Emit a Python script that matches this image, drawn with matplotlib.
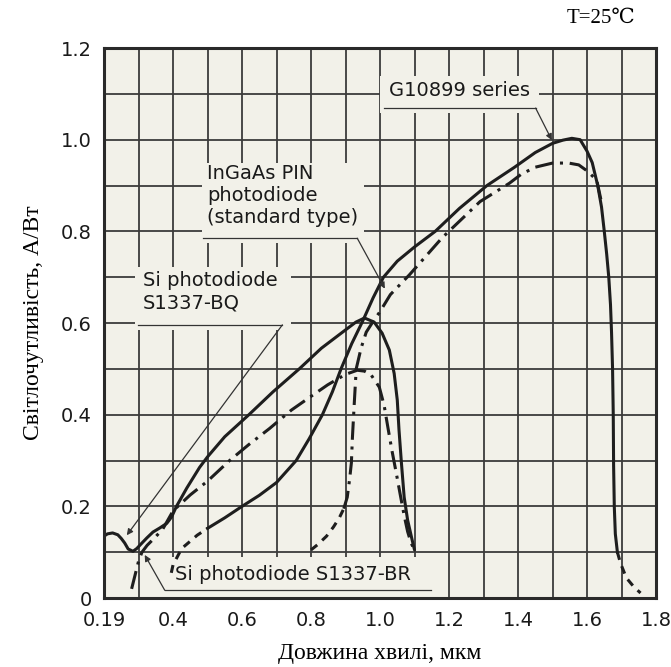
# Спектральна чутливість фотодіодів (Si / InGaAs)
import numpy as np
import matplotlib
matplotlib.use('Agg')
import matplotlib.pyplot as plt
from matplotlib.patches import Rectangle

plt.rcParams['font.family'] = ['DejaVu Sans']

# --- дані ---
# Si photodiode S1337-BQ (суцільна)
bq_x = [0.20, 0.21, 0.225, 0.24, 0.25, 0.26, 0.27, 0.284, 0.295, 0.305, 0.324, 0.342,
        0.362, 0.382, 0.396, 0.41, 0.44, 0.477, 0.50, 0.55, 0.62, 0.69, 0.766, 0.83,
        0.90, 0.93, 0.955, 0.983, 1.006, 1.027, 1.041, 1.05, 1.055, 1.062, 1.07, 1.08,
        1.093, 1.10]
bq_y = [0.135, 0.14, 0.142, 0.138, 0.13, 0.12, 0.107, 0.102, 0.108, 0.116, 0.131, 0.144,
        0.153, 0.163, 0.177, 0.20, 0.24, 0.285, 0.308, 0.352, 0.40, 0.45, 0.50, 0.545,
        0.585, 0.602, 0.611, 0.602, 0.578, 0.541, 0.49, 0.432, 0.367, 0.295, 0.22, 0.17,
        0.127, 0.105]

# Si photodiode S1337-BR (штрих-пунктир)
br_x = [0.28, 0.29, 0.30, 0.31, 0.325, 0.345, 0.37, 0.40, 0.45, 0.50, 0.564, 0.62, 0.68,
        0.743, 0.80, 0.848, 0.90, 0.934, 0.955, 0.974, 0.998, 1.012, 1.024, 1.035, 1.047,
        1.06, 1.07, 1.08, 1.09, 1.10]
br_y = [0.02, 0.05, 0.08, 0.10, 0.115, 0.13, 0.15, 0.19, 0.225, 0.255, 0.30, 0.335, 0.37,
        0.41, 0.44, 0.465, 0.488, 0.497, 0.495, 0.487, 0.46, 0.42, 0.367, 0.32, 0.273,
        0.22, 0.18, 0.145, 0.12, 0.105]

# G10899 series: пунктирний початок, суцільна частина, пунктирний хвіст
g_head_x = [0.395, 0.40, 0.425, 0.45, 0.47, 0.50]
g_head_y = [0.055, 0.072, 0.108, 0.124, 0.137, 0.152]
g_x = [0.50, 0.55, 0.60, 0.65, 0.70, 0.757, 0.795, 0.833, 0.862, 0.887, 0.918, 0.949,
       0.98, 1.01, 1.05, 1.10, 1.16, 1.23, 1.31, 1.39, 1.45, 1.50, 1.53, 1.556, 1.58,
       1.60, 1.615, 1.631, 1.642, 1.65, 1.657, 1.663, 1.668, 1.671, 1.674, 1.676, 1.677,
       1.679, 1.682, 1.688]
g_y = [0.152, 0.175, 0.20, 0.224, 0.252, 0.30, 0.348, 0.40, 0.45, 0.50, 0.555, 0.603,
       0.655, 0.70, 0.735, 0.766, 0.80, 0.85, 0.90, 0.94, 0.972, 0.992, 0.999, 1.003, 1.0,
       0.975, 0.95, 0.90, 0.853, 0.80, 0.75, 0.70, 0.64, 0.58, 0.50, 0.40, 0.29,
       0.20, 0.14, 0.10]
g_tail_x = [1.688, 1.697, 1.714, 1.735, 1.755]
g_tail_y = [0.10, 0.076, 0.044, 0.025, 0.011]

# InGaAs PIN photodiode (standard type)
in_head_x = [0.80, 0.82, 0.845, 0.865, 0.882, 0.895]
in_head_y = [0.105, 0.117, 0.135, 0.155, 0.175, 0.195]
in_x = [0.895, 0.905, 0.912, 0.917, 0.92, 0.925, 0.931, 0.945, 0.96, 0.977, 1.0, 1.03,
        1.085, 1.18, 1.29, 1.375, 1.41, 1.45, 1.50, 1.547, 1.576, 1.60, 1.628, 1.64]
in_y = [0.195, 0.22, 0.26, 0.295, 0.35, 0.42, 0.50, 0.545, 0.58, 0.60, 0.625, 0.662,
        0.705, 0.786, 0.865, 0.905, 0.925, 0.94, 0.949, 0.949, 0.945, 0.932, 0.912, 0.87]

xticks = [0.2, 0.4, 0.6, 0.8, 1.0, 1.2, 1.4, 1.6, 1.8]
xtick_labels = ['0.19', '0.4', '0.6', '0.8', '1.0', '1.2', '1.4', '1.6', '1.8']
yticks = [0, 0.2, 0.4, 0.6, 0.8, 1.0, 1.2]
ytick_labels = ['0', '0.2', '0.4', '0.6', '0.8', '1.0', '1.2']

bg = '#f2f1e9'
ink = '#1e1e1e'
lw = 2.2
dashdot = (0, (6, 2.2, 1, 2.2))
dashed = (0, (2.6, 2.2))

fig = plt.figure(figsize=(6.71, 6.67), dpi=100)
ax = fig.add_axes([0.155, 0.1034, 0.8227, 0.8246])
ax.set_facecolor(bg)
ax.set_axisbelow(True)

ax.plot(bq_x, bq_y, color=ink, lw=lw, zorder=3, solid_capstyle='round')
ax.plot(br_x, br_y, color=ink, lw=lw, ls=dashdot, zorder=3)
ax.plot(g_head_x, g_head_y, color=ink, lw=lw, ls=dashed, zorder=3)
ax.plot(g_x, g_y, color=ink, lw=lw, zorder=3)
ax.plot(g_tail_x, g_tail_y, color=ink, lw=lw, ls=dashed, zorder=3)
ax.plot(in_head_x, in_head_y, color=ink, lw=lw, ls=dashed, zorder=3)
ax.plot(in_x, in_y, color=ink, lw=lw, ls=dashdot, zorder=3)

ax.set_xlim(0.2, 1.8)
ax.set_ylim(0, 1.2)
ax.set_xticks(xticks)
ax.set_xticklabels(xtick_labels)
ax.set_xticks(np.arange(0.3, 1.8, 0.2), minor=True)
ax.set_yticks(yticks)
ax.set_yticklabels(ytick_labels)
ax.set_yticks(np.arange(0.1, 1.2, 0.2), minor=True)
ax.tick_params(which='both', length=0, labelsize=14, pad=9, colors='#1a1a1a')
ax.grid(which='both', color='#3c3c3c', lw=1.3)
for s in ax.spines.values():
    s.set_linewidth(2.2)
    s.set_color('#2a2a2a')
    s.set_zorder(5)

# фонові плашки під підписами (ховають сітку)
for (x0, y0, w, h) in [(1.0, 1.058, 0.46, 0.08),
                       (0.483, 0.775, 0.472, 0.175),
                       (0.29, 0.585, 0.453, 0.137),
                       (0.39, 0.0, 0.767, 0.09)]:
    ax.add_patch(Rectangle((x0, y0), w, h, facecolor=bg, edgecolor='none', zorder=1))

tk = dict(fontsize=14, color='#1a1a1a', zorder=4)
ax.text(1.027, 1.128, 'G10899 series', va='top', ha='left', **tk)
ax.text(0.498, 0.947, 'InGaAs PIN\nphotodiode\n(standard type)', va='top', ha='left',
        linespacing=1.2, **tk)
ax.text(0.313, 0.713, 'Si photodiode\nS1337-BQ', va='top', ha='left', linespacing=1.25, **tk)
ax.text(0.405, 0.073, 'Si photodiode S1337-BR', va='top', ha='left', **tk)

# підкреслення та виноски
ld = dict(color='#333333', lw=0.9, zorder=4)
ax.plot([1.012, 1.451], [1.069, 1.069], **ld)
ax.plot([0.486, 0.934], [0.785, 0.785], **ld)
ax.plot([0.298, 0.717], [0.596, 0.596], **ld)
ax.plot([0.376, 1.148], [0.017, 0.017], **ld)
ap = dict(arrowstyle='-|>', color='#333333', lw=0.9, mutation_scale=9, shrinkA=0, shrinkB=0)
ax.annotate('', xy=(1.498, 0.999), xytext=(1.451, 1.069), arrowprops=ap, zorder=4)
ax.annotate('', xy=(1.014, 0.675), xytext=(0.934, 0.785), arrowprops=ap, zorder=4)
ax.annotate('', xy=(0.266, 0.137), xytext=(0.717, 0.596), arrowprops=ap, zorder=4)
ax.annotate('', xy=(0.318, 0.094), xytext=(0.376, 0.017), arrowprops=ap, zorder=4)

serif = ['Liberation Serif', 'DejaVu Serif']
ax.set_xlabel('Довжина хвилі, мкм', family=serif, fontsize=17, labelpad=10)
ax.set_ylabel('Світлочутливість, А/Вт', family=serif, fontsize=17, labelpad=12)
fig.text(0.845, 0.972, 'T=25℃', family=['Liberation Serif', 'DejaVu Serif', 'DejaVu Sans'],
         fontsize=15, va='center', ha='left')

plt.savefig('out.png', dpi=100)
